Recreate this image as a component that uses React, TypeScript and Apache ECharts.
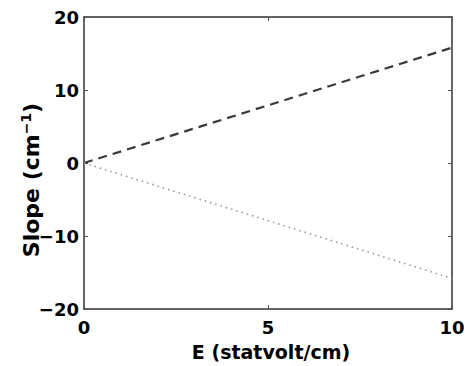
import React, { useEffect, useRef } from "react";
import * as echarts from "echarts";

const xValues = [0, 10];
const dashedValues = [0, 15.8];
const dottedValues = [0, -15.8];
const xTicks = [0, 5, 10];
const yTicks = [-20, -10, 0, 10, 20];

export default function App() {
  const ref = useRef<HTMLDivElement>(null);
  useEffect(() => {
    if (!ref.current) return;
    const chart = echarts.init(ref.current, undefined, { renderer: "svg" });
    const font = "'DejaVu Sans', sans-serif";
    const axisLine = { show: true, onZero: false, lineStyle: { color: "#333", width: 1.5 } };
    const axisTick = { show: true, inside: true, length: 4, lineStyle: { color: "#555", width: 1 } };
    chart.setOption({
      animation: false,
      backgroundColor: "#fff",
      grid: { left: 84, top: 17, right: 19, bottom: 57, containLabel: false, outerBoundsMode: "none" },
      xAxis: [
        {
          type: "value",
          min: 0,
          max: 10,
          interval: 5,
          position: "bottom",
          axisLine,
          axisTick,
          splitLine: { show: false },
          axisLabel: {
            fontFamily: font,
            fontWeight: "bold",
            fontSize: 18,
            color: "#000",
            margin: 9,
            formatter: (v: number) => (xTicks.includes(v) ? String(v) : ""),
          },
          name: "E (statvolt/cm)",
          nameLocation: "middle",
          nameGap: 33,
          nameMoveOverlap: false,
          nameTextStyle: { fontFamily: font, fontWeight: "bold", fontSize: 19, color: "#000", padding: [0, 0, 0, 6] },
        },
        {
          type: "value",
          min: 0,
          max: 10,
          interval: 5,
          position: "top",
          axisLine,
          axisTick,
          splitLine: { show: false },
          axisLabel: { show: false },
        },
      ],
      yAxis: [
        {
          type: "value",
          min: -20,
          max: 20,
          interval: 10,
          position: "left",
          axisLine,
          axisTick,
          splitLine: { show: false },
          axisLabel: {
            fontFamily: font,
            fontWeight: "bold",
            fontSize: 18,
            color: "#000",
            margin: 5,
            formatter: (v: number) =>
              yTicks.includes(v) ? (v < 0 ? "\u2212" + String(-v) : String(v)) : "",
          },
          name: "{a|Slope (cm}{s|\u22121}{a|)}",
          nameLocation: "middle",
          nameGap: 40,
          nameMoveOverlap: false,
          nameTextStyle: {
            padding: [0, 34, 0, 0],
            rich: {
              a: { fontFamily: font, fontWeight: "bold", fontSize: 22, color: "#000" },
              s: { fontFamily: font, fontWeight: "bold", fontSize: 14, color: "#000", verticalAlign: "top", padding: [0, 0, 11, 0] },
            },
          },
        },
        {
          type: "value",
          min: -20,
          max: 20,
          interval: 10,
          position: "right",
          axisLine,
          axisTick,
          splitLine: { show: false },
          axisLabel: { show: false },
        },
      ],
      series: [
        {
          type: "line",
          data: xValues.map((x, i) => [x, dashedValues[i]]),
          showSymbol: false,
          lineStyle: { color: "#3a3a3a", width: 2.2, type: [9, 6] },
        },
        {
          type: "line",
          data: xValues.map((x, i) => [x, dottedValues[i]]),
          showSymbol: false,
          lineStyle: { color: "#999", width: 1.6, type: [1.5, 4] },
        },
      ],
    });
    return () => chart.dispose();
  }, []);
  return <div ref={ref} style={{ width: 471, height: 366, position: "absolute", left: 0, top: 0 }} />;
}
